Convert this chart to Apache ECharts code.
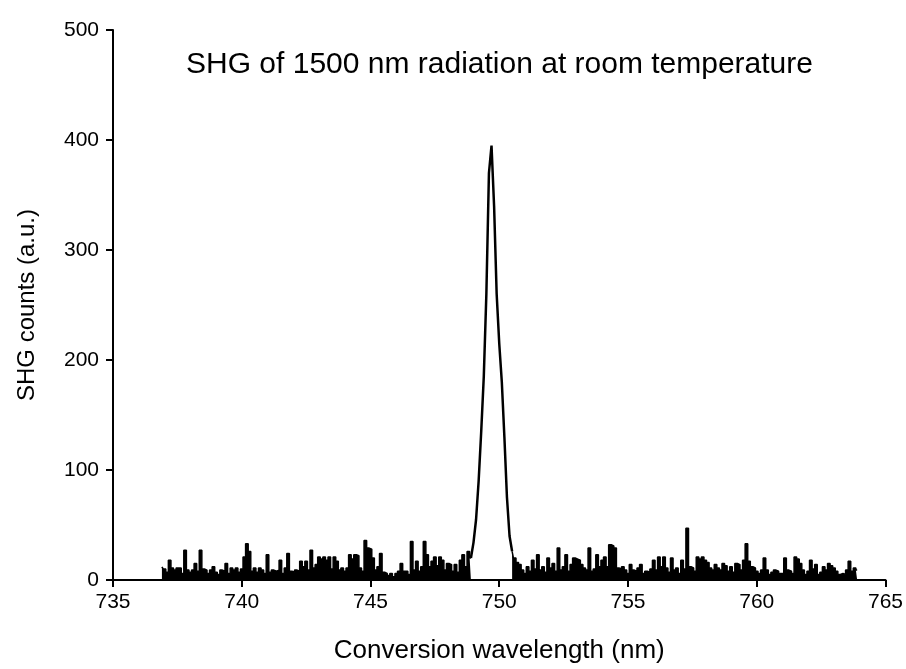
<!DOCTYPE html>
<html>
<head>
<meta charset="utf-8">
<script src="https://cdn.jsdelivr.net/npm/echarts@6/dist/echarts.min.js"></script>
<style>
  html, body { margin: 0; padding: 0; background: #fff; }
  #box { width: 906px; height: 669px; }
</style>
</head>
<body>
<div id="box"></div>
<script>
// wavelength grid of the scan (nm)
var startNm = 736.9;
var stepNm = 0.1;

// SHG counts, in scan order
// 736.9 - 742.2
var countsA = [12,10,7,18,11,9,11,11,6,27, 9,7,9,15,8,27,10,9,6,9,
	12,7,5,9,8,15,6,11,9,11, 7,10,21,33,26,8,11,7,11,9,
	6,23,7,9,8,9,18,6,11,24, 8,7,9,8];
// 742.3 - 748.9
var countsB = [17,12,17,9,27,11,14,21,19,21, 18,21,10,21,17,9,11,8,11,23,
	19,23,22,11,8,36,29,28,20,9, 12,24,7,6,4,6,3,6,8,15,
	8,8,5,35,9,17,8,12,35,23, 12,17,21,13,21,18,9,15,14,8,
	14,7,18,23,12,26,20];
// 749.0 - 750.4 (the SHG peak)
var peak = [34,55,90,135,185,260,370,395,340,260,215,180,130,75,40];
// 750.5 - 757.2
var countsC = [26,20,16,14,9,6,12,8,18,10, 23,9,12,7,20,11,15,8,29,9,
	12,23,8,14,20,19,18,14,11,9, 29,8,10,23,12,18,21,12,32,31,
	29,11,10,12,9,6,14,9,8,11, 14,6,8,7,10,18,9,21,12,21,
	11,7,20,9,11,6,18,10];
// 757.3 - 763.9
var countsD = [47,12,11,8,21,19,21,18,16,11, 9,14,11,9,15,13,8,12,7,15,
	14,9,18,33,17,12,11,8,6,9, 20,9,5,7,9,8,6,6,20,9,
	8,6,21,19,15,9,5,8,18,10, 14,5,7,12,9,15,13,11,8,5,
	6,5,9,17,8,11,9];

var xTicks = [735, 740, 745, 750, 755, 760, 765];
var yTicks = [0, 100, 200, 300, 400, 500];

// pair counts with wavelengths, starting at grid index i0
function toPoints(seg, i0) {
	var pts = [];
	for (var i = 0; i < seg.length; i++) {
		pts.push([+(startNm + (i0 + i) * stepNm).toFixed(1), seg[i]]);
	}
	return pts;
}

var leftNoise = toPoints(countsA.concat(countsB), 0);
var iPeak = countsA.length + countsB.length;
var peakPts = toPoints(peak, iPeak);
var rightNoise = toPoints(countsC.concat(countsD), iPeak + peak.length);

// the peak line joins the last noise point before it and the first after it
peakPts = [leftNoise[leftNoise.length - 1]].concat(peakPts, [rightNoise[0]]);

var myChart = echarts.init(document.getElementById('box'));

var font = '"Liberation Sans", Arial, sans-serif';

function noiseSeries(pts) {
	return {
		type: 'line',
		data: pts,
		step: 'middle',
		showSymbol: false,
		lineStyle: { color: '#000', width: 1.5 },
		areaStyle: { color: '#000', opacity: 1 },
		z: 2
	};
}

var option = {
	backgroundColor: '#fff',
	animation: false,
	title: {
		text: 'SHG of 1500 nm radiation at room temperature',
		left: 181,
		top: 45,
		textStyle: { fontFamily: font, fontSize: 30, fontWeight: 'normal', color: '#000' }
	},
	grid: { left: 113, right: 19, top: 30, bottom: 89, containLabel: false },
	xAxis: {
		type: 'value',
		min: xTicks[0],
		max: xTicks[xTicks.length - 1],
		interval: 5,
		name: 'Conversion wavelength (nm)',
		nameLocation: 'middle',
		nameGap: 58,
		nameTextStyle: { fontFamily: font, fontSize: 26, color: '#000' },
		axisLine: { lineStyle: { color: '#000', width: 2 } },
		axisTick: { inside: false, length: 7, lineStyle: { color: '#000', width: 2 } },
		axisLabel: { margin: 12, fontFamily: font, fontSize: 21, color: '#000' },
		splitLine: { show: false }
	},
	yAxis: {
		type: 'value',
		min: yTicks[0],
		max: yTicks[yTicks.length - 1],
		interval: 100,
		name: 'SHG counts (a.u.)',
		nameLocation: 'middle',
		nameGap: 74,
		nameTextStyle: { fontFamily: font, fontSize: 24, color: '#000' },
		axisLine: { show: true, lineStyle: { color: '#000', width: 2 } },
		axisTick: { show: true, inside: false, length: 7, lineStyle: { color: '#000', width: 2 } },
		axisLabel: { margin: 14, fontFamily: font, fontSize: 21, color: '#000' },
		splitLine: { show: false }
	},
	series: [
		noiseSeries(leftNoise),
		{
			type: 'line',
			data: peakPts,
			showSymbol: false,
			lineStyle: { color: '#000', width: 2.5 },
			z: 3
		},
		noiseSeries(rightNoise)
	]
};

myChart.setOption(option);
</script>
</body>
</html>
